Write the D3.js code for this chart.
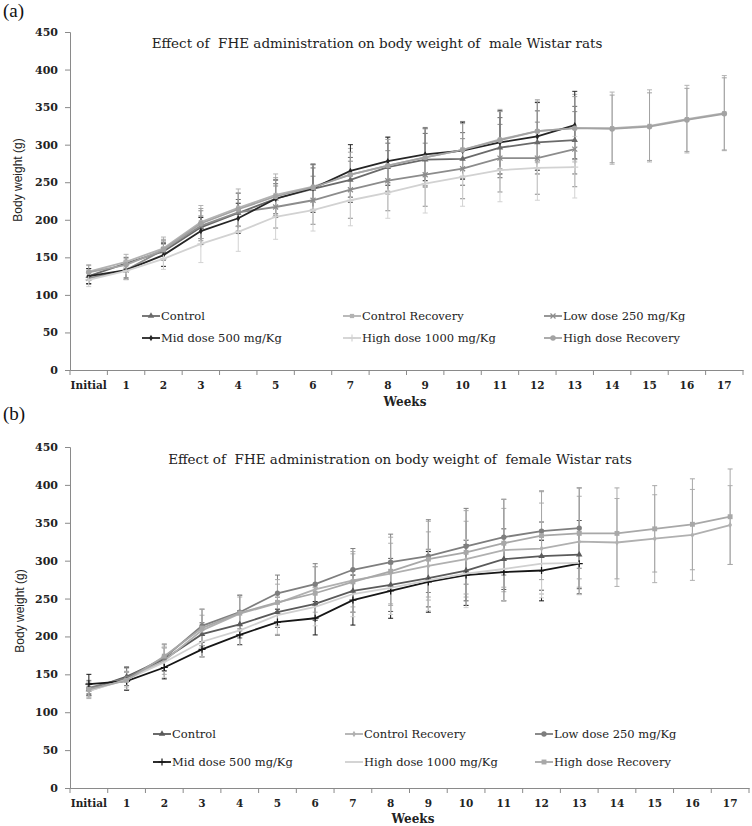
<!DOCTYPE html>
<html><head><meta charset="utf-8">
<script src="https://cdn.jsdelivr.net/npm/d3@7"></script>
<style>body{margin:0;background:#fff}svg{display:block}</style>
</head><body>
<svg id="c" width="752" height="826"></svg>
<script>
const weeks = ["Initial","1","2","3","4","5","6","7","8","9","10","11","12","13","14","15","16","17"];
const yTicks = [0,50,100,150,200,250,300,350,400,450];
const seriesNames = ["Control","Control Recovery","Low dose 250 mg/Kg","Mid dose 500 mg/Kg","High dose 1000 mg/Kg","High dose Recovery"];

// Male (a)
const maleControl   = [125,142,158,190,209,228,241,253,270,280,281,296,303,306];
const maleControlSD = [10,8,12,15,18,20,28,30,32,35,35,40,42,45];
const maleCtrlRec   = [131,144,162,197,216,233,244,260,272,283,293,307,318,322,322,325,334,342];
const maleCtrlRecSD = [8,10,15,22,25,28,30,35,38,40,38,40,42,45,48,48,45,50];
const maleLow       = [122,133,160,192,210,217,226,240,252,260,268,282,282,294];
const maleLowSD     = [8,10,12,20,25,28,32,38,40,42,40,45,48,50];
const maleMid       = [125,133,153,185,202,228,242,265,278,287,292,303,311,326];
const maleMidSD     = [10,12,15,18,20,25,32,35,32,35,38,42,45,45];
const maleHigh      = [120,132,148,168,184,204,213,226,236,248,257,266,269,270];
const maleHighSD    = [9,12,14,25,26,30,28,34,34,39,39,42,43,41];
const maleHighRec   = [130,140,160,195,214,231,243,260,272,283,293,306,318,322,321,324,333,341];
const maleHighRecSD = [10,8,14,20,22,25,30,30,35,38,35,38,40,42,45,45,42,48];

// Female (b)
const femControl   = [130,147,170,203,216,232,243,260,268,277,287,302,306,308];
const femControlSD = [8,12,15,15,18,20,22,28,35,38,40,40,45,45];
const femCtrlRec   = [128,144,168,208,230,244,262,274,283,293,302,314,316,325,324,329,334,347];
const femCtrlRecSD = [10,14,18,20,22,25,30,35,40,45,50,55,60,60,58,58,60,52];
const femLow       = [132,145,172,214,232,257,269,288,298,306,319,331,339,343];
const femLowSD     = [10,15,18,22,22,24,27,28,37,48,50,50,53,53];
const femMid       = [137,141,159,183,202,219,224,248,260,272,281,285,287,296];
const femMidSD     = [13,12,15,10,13,17,22,33,36,40,40,38,40,40];
const femHigh      = [128,143,166,193,208,228,239,256,264,274,283,289,296,297];
const femHighSD    = [8,10,20,20,20,25,25,30,35,40,45,42,45,42];
const femHighRec   = [130,142,174,211,231,245,257,272,286,302,311,323,333,336,336,342,348,358];
const femHighRecSD = [10,12,15,25,24,30,35,40,45,50,55,58,58,60,60,57,60,63];

const svg = d3.select("#c");
const sym = (n) => ({tri:d3.symbolTriangle, sq:d3.symbolSquare, x:(d3.symbolTimes||d3.symbolCross), plus:(d3.symbolPlus||d3.symbolCross), circ:d3.symbolCircle, dia:d3.symbolDiamond}[n]);

function panel(cfg){
  const g = svg.append("g");
  const x = d3.scaleBand().domain(weeks).range([cfg.left, cfg.right]);
  const y = d3.scaleLinear().domain([0,450]).range([cfg.bottom, cfg.top]);
  const axisCol = "#8a8a8a";
  const ya = g.append("g").attr("transform",`translate(${cfg.left},0)`)
    .call(d3.axisLeft(y).tickValues(yTicks).tickSize(5).tickPadding(7));
  ya.select(".domain").attr("stroke",axisCol);
  ya.selectAll(".tick line").attr("stroke",axisCol);
  ya.selectAll("text").attr("font-family","DejaVu Serif").attr("font-size",11).attr("font-weight","bold").attr("fill","#222");
  const xa = g.append("g").attr("transform",`translate(0,${cfg.bottom})`)
    .call(d3.axisBottom(x).tickSize(0).tickPadding(12));
  xa.select(".domain").attr("stroke",axisCol);
  xa.selectAll("text").attr("font-family","DejaVu Serif").attr("font-size",10.5).attr("font-weight","bold").attr("fill","#222");
  const bounds = weeks.map(w=>x(w)).concat([x(weeks[weeks.length-1])+x.bandwidth()]);
  g.selectAll(".xt").data(bounds).enter().append("line")
    .attr("x1",d=>d).attr("x2",d=>d).attr("y1",cfg.bottom).attr("y2",cfg.bottom+5).attr("stroke",axisCol);
  g.append("text").attr("x",3).attr("y",cfg.tagY).text(cfg.tag)
    .attr("font-family","Liberation Serif").attr("font-size",19).attr("fill","#111");
  g.append("text").attr("x",cfg.titleX).attr("y",cfg.titleY).attr("text-anchor","middle")
    .style("white-space","pre").text(cfg.title)
    .attr("font-family","DejaVu Serif").attr("font-size",13.5).attr("fill","#222");
  g.append("text").attr("transform",`translate(${cfg.ylabX},${cfg.ylabY}) rotate(-90)`).attr("text-anchor","middle")
    .text("Body weight (g)").attr("font-family","Liberation Sans").attr("font-size",12).attr("fill","#222");
  g.append("text").attr("x",cfg.xlabX).attr("y",cfg.xlabY).attr("text-anchor","middle").text("Weeks")
    .attr("font-family","DejaVu Serif").attr("font-size",12).attr("font-weight","bold").attr("fill","#222");
  const cx = i => x(weeks[i]) + x.bandwidth()/2;
  cfg.series.forEach(s=>{
    const eg = g.append("g");
    s.v.forEach((v,i)=>{
      const sd = s.sd[i];
      eg.append("line").attr("x1",cx(i)).attr("x2",cx(i)).attr("y1",y(v-sd)).attr("y2",y(v+sd)).attr("stroke",s.c).attr("stroke-width",1);
      [v-sd,v+sd].forEach(e=>eg.append("line").attr("x1",cx(i)-2.5).attr("x2",cx(i)+2.5).attr("y1",y(e)).attr("y2",y(e)).attr("stroke",s.c).attr("stroke-width",1));
    });
  });
  const line = d3.line().x((d,i)=>cx(i)).y(d=>y(d));
  const open = m => (m==="x"||m==="plus");
  cfg.series.forEach(s=>{
    g.append("path").datum(s.v).attr("d",line).attr("fill","none").attr("stroke",s.c).attr("stroke-width",1.8);
    if (s.m) g.selectAll(null).data(s.v).enter().append("path")
      .attr("transform",(d,i)=>`translate(${cx(i)},${y(d)})`)
      .attr("d",d3.symbol().type(sym(s.m)).size(s.ms||18))
      .attr("fill",open(s.m)?"none":s.c).attr("stroke",s.c).attr("stroke-width",open(s.m)?1.2:0);
  });
  cfg.series.forEach((s,k)=>{
    const col = k%3, row = Math.floor(k/3);
    const lx = cfg.legX[col], ly = cfg.legY[row];
    g.append("line").attr("x1",lx).attr("x2",lx+18).attr("y1",ly).attr("y2",ly).attr("stroke",s.c).attr("stroke-width",1.8);
    if (s.m) g.append("path").attr("transform",`translate(${lx+9},${ly})`).attr("d",d3.symbol().type(sym(s.m)).size(s.ms||18))
      .attr("fill",open(s.m)?"none":s.c).attr("stroke",s.c).attr("stroke-width",open(s.m)?1.2:0);
    g.append("text").attr("x",lx+19).attr("y",ly+4).text(seriesNames[k])
      .attr("font-family","DejaVu Serif").attr("font-size",11.5).attr("fill","#222");
  });
}

panel({left:70,right:743,top:32,bottom:370,tag:"(a)",tagY:17,
  title:"Effect of  FHE administration on body weight of  male Wistar rats",titleX:377,titleY:48,
  ylabX:22,ylabY:180,xlabX:405,xlabY:406,legX:[142,343,544],legY:[316,338],
  series:[
    {v:maleControl,sd:maleControlSD,c:"#6a6a6a",m:"tri"},
    {v:maleCtrlRec,sd:maleCtrlRecSD,c:"#b3b3b3",m:"sq"},
    {v:maleLow,sd:maleLowSD,c:"#8c8c8c",m:"x"},
    {v:maleMid,sd:maleMidSD,c:"#252525",m:"dia",ms:12},
    {v:maleHigh,sd:maleHighSD,c:"#d2d2d2",m:"plus"},
    {v:maleHighRec,sd:maleHighRecSD,c:"#a3a3a3",m:"circ",ms:24}
  ]});

panel({left:70,right:749,top:447,bottom:788,tag:"(b)",tagY:420,
  title:"Effect of  FHE administration on body weight of  female Wistar rats",titleX:400,titleY:464,
  ylabX:24,ylabY:611,xlabX:413,xlabY:823,legX:[153,345,535],legY:[734,762],
  series:[
    {v:femControl,sd:femControlSD,c:"#5a5a5a",m:"tri"},
    {v:femCtrlRec,sd:femCtrlRecSD,c:"#b0b0b0",m:"dia",ms:12},
    {v:femLow,sd:femLowSD,c:"#7e7e7e",m:"circ",ms:22},
    {v:femMid,sd:femMidSD,c:"#161616",m:"plus"},
    {v:femHigh,sd:femHighSD,c:"#d0d0d0",m:null},
    {v:femHighRec,sd:femHighRecSD,c:"#a8a8a8",m:"sq",ms:24}
  ]});
</script>
</body></html>
